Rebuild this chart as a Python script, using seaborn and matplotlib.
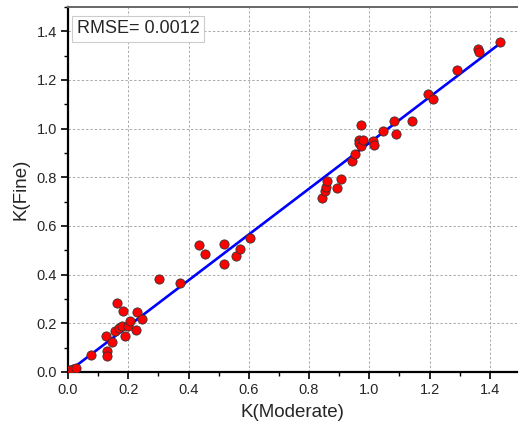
import numpy as np
import pandas as pd
import matplotlib.pyplot as plt
import seaborn as sns
from matplotlib.ticker import MultipleLocator

# values
k_moderate = [0.005, 0.015, 0.025, 0.075, 0.126, 0.128, 0.128, 0.145, 0.157, 0.163,
              0.169, 0.178, 0.183, 0.189, 0.200, 0.205, 0.225, 0.230, 0.246, 0.302,
              0.373, 0.434, 0.454, 0.517, 0.519, 0.556, 0.570, 0.603,
              0.843, 0.854, 0.857, 0.860, 0.892, 0.905, 0.941, 0.953, 0.965, 0.967,
              0.972, 0.974, 0.978, 1.013, 1.017, 1.044, 1.081, 1.088, 1.143, 1.195,
              1.210, 1.292, 1.362, 1.364, 1.433]
k_fine = [0.010, 0.012, 0.015, 0.070, 0.148, 0.086, 0.066, 0.123, 0.168, 0.283,
          0.181, 0.190, 0.250, 0.148, 0.189, 0.210, 0.172, 0.248, 0.216, 0.380,
          0.364, 0.522, 0.485, 0.444, 0.526, 0.476, 0.506, 0.549,
          0.716, 0.743, 0.761, 0.784, 0.757, 0.791, 0.868, 0.895, 0.953, 0.939,
          0.929, 1.014, 0.953, 0.950, 0.934, 0.990, 1.031, 0.976, 1.032, 1.142,
          1.121, 1.240, 1.327, 1.315, 1.355]
rmse_text = "RMSE= 0.0012"

df = pd.DataFrame({'K(Moderate)': k_moderate, 'K(Fine)': k_fine})

# least squares line through the origin
x = np.array(k_moderate)
y = np.array(k_fine)
slope = np.sum(x * y) / np.sum(x * x)
fit = pd.DataFrame({'x': [0, x.max()]})
fit['y'] = slope * fit['x']

sns.set_theme(style='white')
plt.rcParams['font.family'] = ['Liberation Sans', 'DejaVu Sans']

fig = plt.figure(figsize=(5.19, 4.33), dpi=100)
ax = fig.add_axes([0.131, 0.141, 0.865, 0.843])

ax.grid(True, which='major', color='#aaaaaa', linestyle=(0, (2.5, 2)), linewidth=0.7)
ax.set_axisbelow(True)

sns.lineplot(data=fit, x='x', y='y', color='#0000ff', linewidth=1.9, ax=ax, zorder=3)
sns.scatterplot(data=df, x='K(Moderate)', y='K(Fine)', color='#ff0000', edgecolor='#333333',
                linewidth=0.6, s=44, ax=ax, zorder=4)

ax.set_xlim(0, 1.49)
ax.set_ylim(0, 1.5)
ax.xaxis.set_major_locator(MultipleLocator(0.2))
ax.xaxis.set_minor_locator(MultipleLocator(0.1))
ax.yaxis.set_major_locator(MultipleLocator(0.2))
ax.yaxis.set_minor_locator(MultipleLocator(0.1))
ax.xaxis.set_major_formatter(plt.FormatStrFormatter('%.1f'))
ax.yaxis.set_major_formatter(plt.FormatStrFormatter('%.1f'))
ax.tick_params(which='major', direction='out', length=5, width=1.2, labelsize=10.5,
               bottom=True, left=True, color='black', pad=3)
ax.tick_params(which='minor', direction='out', length=3, width=1.0,
               bottom=True, left=True, color='black')

for side in ['left', 'bottom']:
    ax.spines[side].set_color('black')
    ax.spines[side].set_linewidth(1.6)
ax.spines['top'].set_color('#666666')
ax.spines['top'].set_linewidth(1.4)
ax.spines['right'].set_visible(False)

ax.set_xlabel('K(Moderate)', fontsize=13.5, labelpad=5)
ax.set_ylabel('K(Fine)', fontsize=13.5, labelpad=5)

ax.text(0.02, 0.963, rmse_text, transform=ax.transAxes, fontsize=13, va='top', ha='left',
        bbox=dict(boxstyle='square,pad=0.25', facecolor='white', edgecolor='#cccccc', linewidth=0.8),
        zorder=5)

fig.savefig('out.png', dpi=100)
